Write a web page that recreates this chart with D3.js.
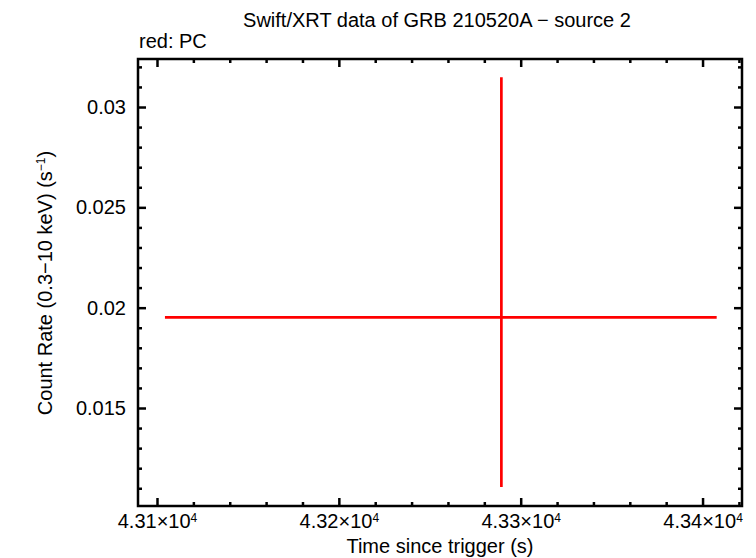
<!DOCTYPE html>
<html><head><meta charset="utf-8">
<script src="https://cdn.jsdelivr.net/npm/d3@7"></script>
<style>body{margin:0;background:#fff}text{font-family:"Liberation Sans",Arial,sans-serif;fill:#000}</style>
</head><body><svg id="c" width="756" height="558"></svg>
<script>
// Data (PC mode point)
const times = [43289.1];
const timeLo = [43104.1];
const timeHi = [43407.5];
const rates = [0.019545];
const rateLo = [0.011088];
const rateHi = [0.031505];
const xTickValues = [43100, 43200, 43300, 43400];
const xTickMantissa = ["4.31", "4.32", "4.33", "4.34"];
const yTickValues = [0.015, 0.02, 0.025, 0.03];
const yTickLabels = ["0.015", "0.02", "0.025", "0.03"];

const svg = d3.select("#c");
const L = 138, R = 742, T = 59, B = 506;
const x = d3.scaleLinear().domain([43089.28, 43421.42]).range([L, R]);
const y = d3.scaleLinear().domain([0.010141, 0.032418]).range([B, T]);

// data
const g = svg.append("g");
times.forEach((t, i) => {
  g.append("line").attr("x1", x(timeLo[i])).attr("x2", x(timeHi[i]))
    .attr("y1", y(rates[i])).attr("y2", y(rates[i]))
    .attr("stroke", "#ff0000").attr("stroke-width", 2.7);
  g.append("line").attr("x1", x(t)).attr("x2", x(t))
    .attr("y1", y(rateLo[i])).attr("y2", y(rateHi[i]))
    .attr("stroke", "#ff0000").attr("stroke-width", 2.7);
});

// ticks
const xMinor = d3.range(43100, 43421, 20);
const yMinor = d3.range(0.011, 0.0325, 0.001);
const tk = svg.append("g").attr("stroke", "#000").attr("stroke-width", 2.5);
xMinor.forEach(v => {
  const len = xTickValues.some(m => Math.abs(m - v) < 1e-6) ? 8 : 4;
  tk.append("line").attr("x1", x(v)).attr("x2", x(v)).attr("y1", B).attr("y2", B - len);
  tk.append("line").attr("x1", x(v)).attr("x2", x(v)).attr("y1", T).attr("y2", T + len);
});
yMinor.forEach(v => {
  const len = yTickValues.some(m => Math.abs(m - v) < 1e-7) ? 8 : 4;
  tk.append("line").attr("y1", y(v)).attr("y2", y(v)).attr("x1", L).attr("x2", L + len);
  tk.append("line").attr("y1", y(v)).attr("y2", y(v)).attr("x1", R).attr("x2", R - len);
});

// frame
svg.append("rect").attr("x", L).attr("y", T).attr("width", R - L).attr("height", B - T)
  .attr("fill", "none").attr("stroke", "#000").attr("stroke-width", 2.5);

// y tick labels
yTickValues.forEach((v, i) => {
  svg.append("text").attr("x", 126).attr("y", y(v) + 6.5).attr("text-anchor", "end")
    .attr("font-size", 20).text(yTickLabels[i]);
});
// x tick labels
xTickValues.forEach((v, i) => {
  const t = svg.append("text").attr("x", x(v)).attr("y", 528).attr("text-anchor", "middle").attr("font-size", 20);
  t.append("tspan").text(xTickMantissa[i] + "\u00d710");
  t.append("tspan").attr("font-size", 12).attr("dy", -6).text("4");
});

// titles
svg.append("text").attr("x", 437).attr("y", 26.5).attr("text-anchor", "middle").attr("font-size", 20)
  .text("Swift/XRT data of GRB 210520A \u2212 source 2");
svg.append("text").attr("x", 139).attr("y", 48).attr("font-size", 20).text("red: PC");
svg.append("text").attr("x", 440).attr("y", 553).attr("text-anchor", "middle").attr("font-size", 20)
  .text("Time since trigger (s)");
const yt = svg.append("text").attr("transform", "translate(52,283) rotate(-90)")
  .attr("text-anchor", "middle").attr("font-size", 20);
yt.append("tspan").text("Count Rate (0.3\u221210 keV) (s");
yt.append("tspan").attr("font-size", 12).attr("dy", -7).text("\u22121");
yt.append("tspan").attr("dy", 7).text(")");
</script></body></html>
